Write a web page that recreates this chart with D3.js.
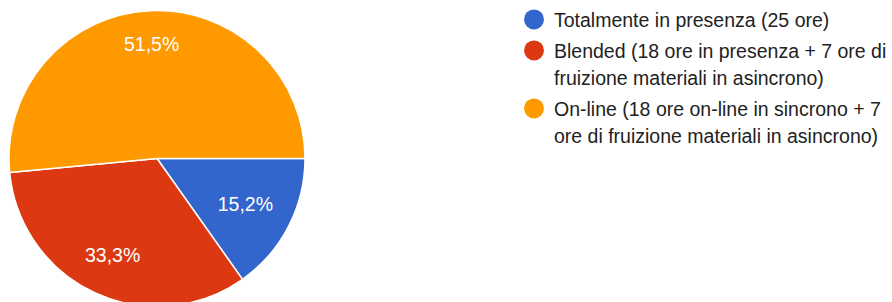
<!DOCTYPE html>
<html>
  <head>
    <meta http-equiv="content-type" content="text/html; charset=utf-8" />
    <title>Pie</title>
    <script type="text/javascript" src="https://cdn.jsdelivr.net/npm/d3@7/dist/d3.min.js"></script>
    <style type="text/css">
      html, body { margin: 0; padding: 0; background: #fff; }
      svg { display: block; }
    </style>
  </head>
  <body>
    <script type="text/javascript">
// data
      var categories = [
        "Totalmente in presenza (25 ore)",
        "Blended (18 ore in presenza + 7 ore di fruizione materiali in asincrono)",
        "On-line (18 ore on-line in sincrono + 7 ore di fruizione materiali in asincrono)"
      ];
      var values = [15.2, 33.3, 51.5];
      var colors = ["#3366cc", "#dc3912", "#ff9900"];

      var w = 892, h = 302,
          cx = 157, cy = 158.5, r = 148,
          fontFamily = "'Liberation Sans', Arial, Helvetica, sans-serif";

      var svg = d3.select("body").append("svg")
        .attr("width", w)
        .attr("height", h);

      var data = categories.map(function(c, i) {
        return { name: c, value: values[i], color: colors[i] };
      });

// slices start at 3 o'clock and go clockwise
      var pie = d3.pie()
        .sort(null)
        .value(function(d) { return d.value; })
        .startAngle(Math.PI / 2)
        .endAngle(Math.PI / 2 + 2 * Math.PI);

      var arc = d3.arc().innerRadius(0).outerRadius(r);

      var g = svg.append("g").attr("transform", "translate(" + cx + "," + cy + ")");

      var arcs = pie(data);

      g.selectAll("path")
        .data(arcs)
        .enter()
        .append("path")
          .attr("d", arc)
          .attr("fill", function(d) { return d.data.color; })
          .attr("stroke", "#fff")
          .attr("stroke-width", 1.5)
          .attr("stroke-linejoin", "round");

// percent labels, pushed out along the bisector until the box nearly hits the rim
      var fmt = function(v) { return v.toFixed(1).replace(".", ",") + "%"; };
      var labels = g.selectAll("text.pct")
        .data(arcs)
        .enter()
        .append("text")
          .attr("class", "pct")
          .attr("fill", "#fff")
          .attr("font-family", fontFamily)
          .attr("font-size", 19.5)
          .attr("text-anchor", "middle")
          .text(function(d) { return fmt(d.data.value); });

      labels.each(function(d) {
        var a = (d.startAngle + d.endAngle) / 2,
            s = Math.abs(Math.sin(a)), c = Math.abs(Math.cos(a)),
            hw = this.getComputedTextLength() / 2, hh = 10,
            R = r * 0.87,
            B = s * hw + c * hh,
            dist = -B + Math.sqrt(B * B - (hw * hw + hh * hh - R * R));
        d3.select(this)
          .attr("x", Math.sin(a) * dist)
          .attr("y", -Math.cos(a) * dist + 7);
      });

// legend
      var lx = 534, tx = 554, maxW = 892 - tx - 2,
          lineH = 27, gap = 4, y = 26.7;

      var legend = svg.append("g");

      data.forEach(function(d) {
        var item = legend.append("g");
        item.append("circle")
          .attr("cx", lx)
          .attr("cy", y - 7.3)
          .attr("r", 10)
          .attr("fill", d.color);

        var t = item.append("text")
          .attr("font-family", fontFamily)
          .attr("font-size", 19.5)
          .attr("fill", "#222");

        // simple word wrap
        var words = d.name.split(" "), line = [], lines = 0;
        var ts = t.append("tspan").attr("x", tx).attr("y", y);
        words.forEach(function(word) {
          line.push(word);
          ts.text(line.join(" "));
          if (ts.node().getComputedTextLength() > maxW && line.length > 1) {
            line.pop();
            ts.text(line.join(" "));
            line = [word];
            lines++;
            ts = t.append("tspan").attr("x", tx).attr("y", y + lines * lineH).text(word);
          }
        });
        y += (lines + 1) * lineH + gap;
      });
    </script>
  </body>
</html>
